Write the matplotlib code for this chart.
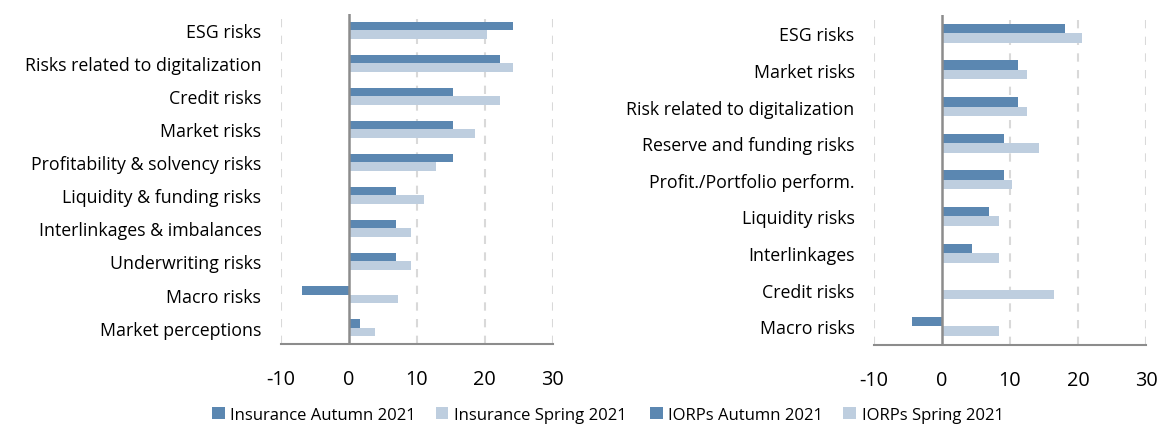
import matplotlib.pyplot as plt
import numpy as np

# insurance panel
ins_categories = ['ESG risks', 'Risks related to digitalization', 'Credit risks',
                  'Market risks', 'Profitability & solvency risks',
                  'Liquidity & funding risks', 'Interlinkages & imbalances',
                  'Underwriting risks', 'Macro risks', 'Market perceptions']
ins_autumn = [24.1, 22.2, 15.3, 15.3, 15.3, 6.9, 6.9, 6.9, -6.8, 1.6]
ins_spring = [20.4, 24.1, 22.2, 18.5, 12.9, 11.0, 9.1, 9.1, 7.2, 3.8]

# IORPs panel
iorp_categories = ['ESG risks', 'Market risks', 'Risk related to digitalization',
                   'Reserve and funding risks', 'Profit./Portfolio perform.',
                   'Liquidity risks', 'Interlinkages', 'Credit risks', 'Macro risks']
iorp_autumn = [18.1, 11.2, 11.2, 9.1, 9.1, 6.9, 4.4, 0.0, -4.4]
iorp_spring = [20.6, 12.5, 12.5, 14.3, 10.3, 8.4, 8.4, 16.5, 8.4]

xticks = [-10, 0, 10, 20, 30]

DARK = '#5b87b1'
LIGHT = '#becedf'
GRID = '#d9d9d9'
AXIS = '#8c8c8c'

plt.rcParams['font.family'] = ['Open Sans', 'DejaVu Sans']
plt.rcParams['axes.unicode_minus'] = False

fig = plt.figure(figsize=(11.61, 4.27), dpi=100)


def draw_panel(rect, cats, autumn, spring, names, bar_h):
    ax = fig.add_axes(rect)
    y = np.arange(len(cats))
    ax.barh(y - bar_h / 2, autumn, height=bar_h, color=DARK,
            label=names[0], zorder=3)
    ax.barh(y + bar_h / 2, spring, height=bar_h, color=LIGHT,
            label=names[1], zorder=3)
    ax.set_ylim(len(cats) - 0.5, -0.5)
    ax.set_xlim(-10, 30)
    ax.set_xticks(xticks)
    ax.set_yticks(y)
    ax.set_yticklabels(cats)
    for v in xticks:
        if v != 0:
            ax.axvline(v, color=GRID, lw=1.5, ls=(0, (4, 4)), zorder=1)
    ax.axvline(0, color=AXIS, lw=1.8, zorder=4)
    for s in ['top', 'right', 'left']:
        ax.spines[s].set_visible(False)
    ax.spines['bottom'].set_color(AXIS)
    ax.spines['bottom'].set_linewidth(1.5)
    ax.tick_params(axis='y', length=0, pad=14, labelsize=12.8)
    ax.tick_params(axis='x', length=0, pad=18, labelsize=14.3)
    return ax


ax1 = draw_panel([0.2418, 0.192, 0.2343, 0.773], ins_categories,
                 ins_autumn, ins_spring,
                 ['Insurance Autumn 2021', 'Insurance Spring 2021'], 0.25)
ax2 = draw_panel([0.7528, 0.1904, 0.2343, 0.7721], iorp_categories,
                 iorp_autumn, iorp_spring,
                 ['IORPs Autumn 2021', 'IORPs Spring 2021'], 0.26)

for ax, x0 in [(ax1, 212 / 1161), (ax2, 650 / 1161)]:
    handles, labels = ax.get_legend_handles_labels()
    fig.legend(handles=handles, labels=labels,
               loc='center left', bbox_to_anchor=(x0, 1 - 416 / 427), ncol=2,
               frameon=False, fontsize=12, handlelength=0.75, handleheight=0.75,
               handletextpad=0.35, columnspacing=1.2, borderpad=0,
               borderaxespad=0)

fig.savefig('out.png', dpi=100)
